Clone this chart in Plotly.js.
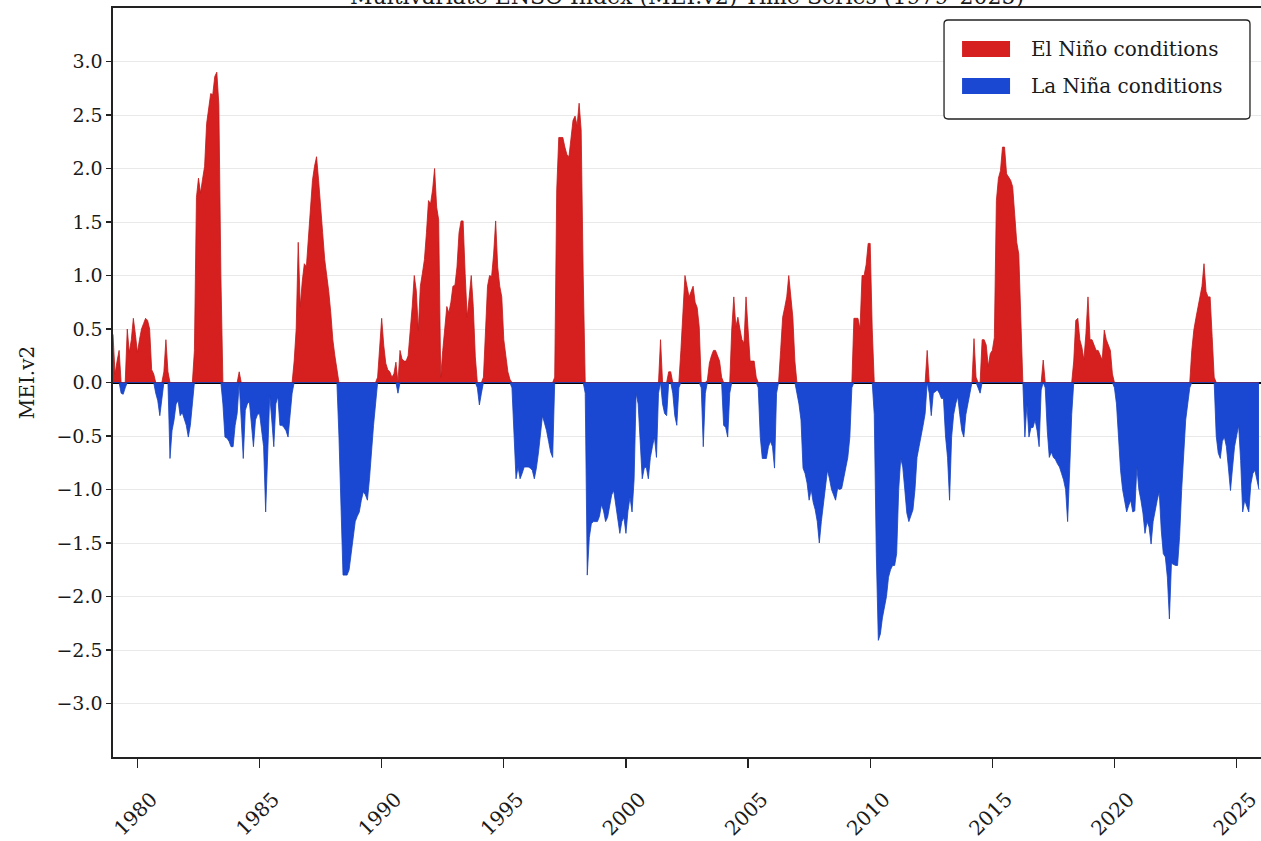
<!DOCTYPE html>
<html>
<head>
<meta charset="utf-8">
<script src="https://cdn.plot.ly/plotly-3.0.1.min.js"></script>
<style>
  html, body { margin: 0; padding: 0; background: #ffffff; }
  #chart { width: 1261px; height: 841px; }
</style>
</head>
<body>
<div id="chart"></div>
<script>
// Monthly MEI.v2 values (Jan 1979 onward)
const startYear = 1979;
const mei1979to1989 = [
  0.45, 0.08, 0.2, 0.3, -0.1, -0.11, -0.05, 0.5, 0.28, 0.4, 0.6, 0.45,
  0.28, 0.4, 0.5, 0.55, 0.6, 0.58, 0.5, 0.12, 0.08, -0.1, -0.17, -0.31,
  -0.17, 0.1, 0.4, 0.1, -0.71, -0.45, -0.35, -0.2, -0.17, -0.31, -0.28, -0.35,
  -0.4, -0.51, -0.4, -0.2, 0.3, 1.73, 1.91, 1.77, 1.9, 2.02, 2.42, 2.54,
  2.7, 2.69, 2.86, 2.9, 2.6, 1.0, -0.2, -0.51, -0.52, -0.55, -0.6, -0.6,
  -0.4, -0.29, 0.1, -0.35, -0.71, -0.26, -0.2, -0.18, -0.4, -0.6, -0.35, -0.3,
  -0.29, -0.45, -0.6, -1.21, -0.6, -0.12, -0.35, -0.6, -0.2, -0.13, -0.4, -0.4,
  -0.42, -0.45, -0.51, -0.3, -0.1, 0.2, 0.5, 1.31, 0.71, 0.95, 1.11, 1.08,
  1.35, 1.6, 1.89, 2.02, 2.11, 1.89, 1.6, 1.4, 1.15, 1.02, 0.85, 0.65,
  0.4, 0.25, 0.1, -0.5, -1.2, -1.8, -1.8, -1.8, -1.75, -1.6, -1.45, -1.3,
  -1.25, -1.21, -1.1, -1.02, -1.05, -1.1, -0.9, -0.6, -0.4, -0.2, 0.05, 0.35
];
const mei1990to1999 = [
  0.6, 0.35, 0.18, 0.12, 0.1, 0.05, 0.08, 0.19, -0.1, 0.3, 0.22, 0.2,
  0.2, 0.25, 0.45, 0.71, 1.0, 0.86, 0.49, 0.9, 1.02, 1.15, 1.4, 1.7,
  1.67, 1.8, 2.0, 1.64, 1.52, 0.05, 0.3, 0.5, 0.71, 0.65, 0.75, 0.9,
  0.91, 1.08, 1.4, 1.51, 1.51, 1.02, 0.61, 0.8, 1.0, 0.71, 0.24, -0.05,
  -0.21, -0.1, 0.05, 0.5, 0.9, 1.0, 0.99, 1.2, 1.51, 1.08, 0.9, 0.8,
  0.4, 0.25, 0.1, 0.03, -0.05, -0.5, -0.9, -0.79, -0.9, -0.85, -0.79, -0.79,
  -0.79, -0.8, -0.82, -0.9, -0.8, -0.66, -0.45, -0.31, -0.38, -0.45, -0.55, -0.65,
  -0.7, 0.05, 1.8, 2.29, 2.29, 2.29, 2.2, 2.13, 2.11, 2.3, 2.45, 2.49,
  2.4, 2.61, 2.36, 1.0, -0.1, -1.8, -1.45, -1.32, -1.3, -1.3, -1.3, -1.25,
  -1.14, -1.2, -1.3, -1.26, -1.15, -1.05, -1.01, -1.15, -1.26, -1.41, -1.3, -1.26
];
const mei2000to2009 = [
  -1.41, -1.2, -1.07, -1.21, -0.91, -0.1, -0.2, -0.51, -0.9, -0.8, -0.79, -0.9,
  -0.7, -0.6, -0.51, -0.7, -0.1, 0.4, -0.2, -0.29, -0.31, 0.1, 0.1, -0.1,
  -0.31, -0.4, -0.05, 0.3, 0.65, 1.0, 0.9, 0.8, 0.85, 0.9, 0.75, 0.7,
  0.52, -0.05, -0.6, -0.1, 0.02, 0.18, 0.25, 0.3, 0.3, 0.25, 0.2, 0.05,
  -0.4, -0.42, -0.51, -0.1, 0.5, 0.8, 0.52, 0.61, 0.5, 0.4, 0.37, 0.8,
  0.5, 0.2, 0.2, 0.2, 0.05, -0.05, -0.51, -0.71, -0.71, -0.71, -0.6, -0.55,
  -0.6, -0.8, -0.1, 0.0, 0.3, 0.61, 0.7, 0.8, 1.0, 0.8, 0.61, 0.2,
  -0.1, -0.2, -0.35, -0.8, -0.85, -0.94, -1.1, -1.0, -1.12, -1.19, -1.3, -1.5,
  -1.3, -1.15, -1.0, -0.82, -0.9, -1.0, -1.05, -1.1, -0.99, -1.0, -0.99, -0.9,
  -0.8, -0.7, -0.51, -0.05, 0.6, 0.6, 0.6, 0.5, 1.0, 1.0, 1.1, 1.3
];
const mei2010to2019 = [
  1.3, 0.5, -0.3, -1.6, -2.41, -2.35, -2.2, -2.1, -2.0, -1.82, -1.75, -1.71,
  -1.71, -1.6, -1.0, -0.71, -0.79, -1.0, -1.22, -1.3, -1.25, -1.19, -1.0, -0.7,
  -0.6, -0.51, -0.4, -0.29, 0.3, -0.1, -0.31, -0.1, -0.08, -0.07, -0.1, -0.15,
  -0.15, -0.5, -0.7, -1.1, -0.51, -0.3, -0.2, -0.13, -0.3, -0.45, -0.51, -0.3,
  -0.2, -0.1, 0.0, 0.41, 0.05, -0.05, -0.1, 0.4, 0.4, 0.35, 0.15, 0.27,
  0.3, 0.42, 1.7, 1.91, 1.98, 2.2, 2.2, 1.95, 1.92, 1.89, 1.83, 1.6,
  1.31, 1.2, 0.6, 0.0, -0.51, -0.2, -0.51, -0.42, -0.42, -0.35, -0.45, -0.6,
  -0.07, 0.21, -0.05, -0.45, -0.7, -0.65, -0.7, -0.72, -0.76, -0.79, -0.85, -0.91,
  -1.0, -1.3, -0.82, -0.3, 0.2, 0.58, 0.6, 0.4, 0.33, 0.21, 0.46, 0.8,
  0.4, 0.4, 0.35, 0.3, 0.3, 0.25, 0.21, 0.49, 0.4, 0.35, 0.3, 0.08
];
const mei2020to2025 = [
  -0.05, -0.2, -0.51, -0.82, -1.0, -1.1, -1.21, -1.15, -1.1, -1.21, -1.2, -0.79,
  -1.0, -1.1, -1.22, -1.41, -1.3, -1.35, -1.51, -1.3, -1.19, -1.1, -1.02, -1.38,
  -1.6, -1.63, -1.82, -2.21, -1.69, -1.7, -1.71, -1.71, -1.44, -1.01, -0.66, -0.35,
  -0.2, -0.05, 0.3, 0.49, 0.6, 0.71, 0.8, 0.9, 1.11, 0.85, 0.8, 0.8,
  0.43, 0.05, -0.5, -0.66, -0.71, -0.55, -0.51, -0.6, -0.8, -1.01, -0.8, -0.6,
  -0.5, -0.4, -0.73, -1.21, -1.1, -1.15, -1.21, -0.95, -0.85, -0.82, -0.9, -1.0
];

const chartTitle = 'Multivariate ENSO Index (MEI.v2) Time Series (1979\u20132025)';
const seriesNames = ['El Niño conditions', 'La Niña conditions'];
const yTickVals = [-3.0, -2.5, -2.0, -1.5, -1.0, -0.5, 0.0, 0.5, 1.0, 1.5, 2.0, 2.5, 3.0];
const yTickText = ['\u22123.0', '\u22122.5', '\u22122.0', '\u22121.5', '\u22121.0', '\u22120.5', '0.0', '0.5', '1.0', '1.5', '2.0', '2.5', '3.0'];
const xTickVals = [1980, 1985, 1990, 1995, 2000, 2005, 2010, 2015, 2020, 2025];
const xTickText = ['1980', '1985', '1990', '1995', '2000', '2005', '2010', '2015', '2020', '2025'];

const mei = [].concat(mei1979to1989, mei1990to1999, mei2000to2009, mei2010to2019, mei2020to2025);
const t = mei.map((v, i) => startYear + i / 12);
const pos = mei.map(v => (v > 0 ? v : 0));
const neg = mei.map(v => (v < 0 ? v : 0));

const RED = '#d61f1f';
const BLUE = '#1a48d2';
const FONT = 'DejaVu Serif, Liberation Serif, serif';
const TXT = '#1a1a1a';

const traces = [
  {
    x: t, y: pos, type: 'scatter', mode: 'lines', name: seriesNames[0],
    fill: 'tozeroy', fillcolor: RED, showlegend: false,
    line: { color: '#c01a1a', width: 0.8 }, hoverinfo: 'skip'
  },
  {
    x: t, y: neg, type: 'scatter', mode: 'lines', name: seriesNames[1],
    fill: 'tozeroy', fillcolor: BLUE, showlegend: false,
    line: { color: '#1842bf', width: 0.8 }, hoverinfo: 'skip'
  }
];

// Legend box (drawn in paper coordinates, matplotlib-style frame)
const lg = { x0: 0.7239, x1: 0.9904, y0: 0.8518, y1: 0.984, rx: 0.0035, ry: 0.0053 };
const framePath =
  `M${lg.x0 + lg.rx},${lg.y1} L${lg.x1 - lg.rx},${lg.y1} Q${lg.x1},${lg.y1} ${lg.x1},${lg.y1 - lg.ry} ` +
  `L${lg.x1},${lg.y0 + lg.ry} Q${lg.x1},${lg.y0} ${lg.x1 - lg.rx},${lg.y0} ` +
  `L${lg.x0 + lg.rx},${lg.y0} Q${lg.x0},${lg.y0} ${lg.x0},${lg.y0 + lg.ry} ` +
  `L${lg.x0},${lg.y1 - lg.ry} Q${lg.x0},${lg.y1} ${lg.x0 + lg.rx},${lg.y1} Z`;
const patchX = [0.7396, 0.7814];
const rowY = [[0.9346, 0.9559], [0.8852, 0.9065]];
const rowColors = [RED, BLUE];
const labelX = 0.7975;

const shapes = [
  { type: 'path', xref: 'paper', yref: 'paper', path: framePath,
    fillcolor: 'rgba(255,255,255,0.95)', line: { color: '#222222', width: 1.3 }, layer: 'above' }
];
const annotations = [
  // chart title: in the reference it sits above the frame and is mostly cropped by the top edge
  { xref: 'paper', yref: 'paper', x: 0.5, y: 1, xanchor: 'center', yanchor: 'bottom',
    yshift: -3, showarrow: false, text: chartTitle,
    font: { family: FONT, size: 22, color: TXT } }
];
seriesNames.forEach((name, k) => {
  shapes.push({ type: 'rect', xref: 'paper', yref: 'paper',
    x0: patchX[0], x1: patchX[1], y0: rowY[k][0], y1: rowY[k][1],
    fillcolor: rowColors[k], line: { width: 0 }, layer: 'above' });
  annotations.push({ xref: 'paper', yref: 'paper', x: labelX, y: (rowY[k][0] + rowY[k][1]) / 2,
    xanchor: 'left', yanchor: 'middle', showarrow: false, text: name,
    font: { family: FONT, size: 20, color: TXT } });
});

const layout = {
  width: 1261, height: 841,
  margin: { l: 113, r: 0, t: 8, b: 84, pad: 0 },
  paper_bgcolor: '#ffffff', plot_bgcolor: '#ffffff',
  font: { family: FONT, size: 19, color: TXT },
  showlegend: false,
  shapes: shapes,
  annotations: annotations,
  xaxis: {
    range: [1979, 2026], showgrid: false, zeroline: false,
    tickmode: 'array', tickvals: xTickVals, ticktext: xTickText,
    tickangle: -45, ticks: 'outside', ticklen: 9, tickwidth: 1.2, tickcolor: '#222',
    ticklabelshift: 14, ticklabelstandoff: 12, ticklabeloverflow: 'allow',
    showline: true, linecolor: '#222', linewidth: 1.6, mirror: true,
    tickfont: { family: FONT, size: 20, color: TXT }
  },
  yaxis: {
    range: [-3.5, 3.5],
    tickmode: 'array', tickvals: yTickVals, ticktext: yTickText,
    ticks: 'outside', ticklen: 5, tickwidth: 1.2, tickcolor: '#222',
    showline: true, linecolor: '#222', linewidth: 1.6, mirror: false,
    showgrid: true, gridcolor: '#e9e9e9', gridwidth: 1,
    zeroline: true, zerolinecolor: '#000000', zerolinewidth: 2,
    tickfont: { family: FONT, size: 19, color: TXT },
    title: { text: 'MEI.v2', font: { family: FONT, size: 20, color: TXT }, standoff: 16 }
  }
};

Plotly.newPlot('chart', traces, layout, { displayModeBar: false, staticPlot: true });
</script>
</body>
</html>
